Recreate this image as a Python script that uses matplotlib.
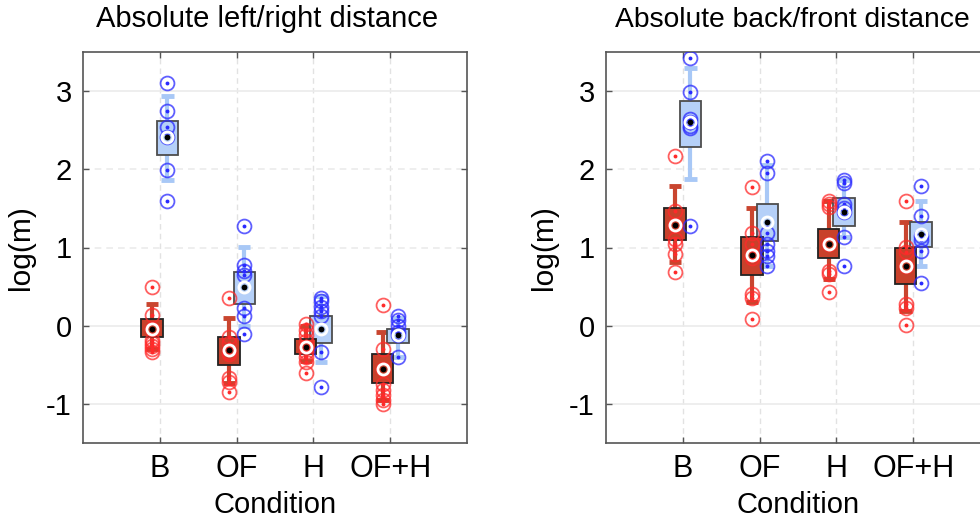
import matplotlib
matplotlib.use("Agg")
import matplotlib.pyplot as plt
import numpy as np

plt.rcParams['font.family'] = ['Liberation Sans', 'DejaVu Sans']

conditions = ["B", "OF", "H", "OF+H"]
titles = ["Absolute left/right distance", "Absolute back/front distance"]

# ---------- Left panel: left/right distance ----------
lr_red_points = [
    [0.50, 0.14, -0.04, -0.18, -0.22, -0.26, -0.30, -0.33],
    [0.36, -0.14, -0.22, -0.33, -0.36, -0.67, -0.72, -0.85],
    [0.02, -0.05, -0.12, -0.20, -0.27, -0.33, -0.40, -0.47, -0.60],
    [0.27, -0.30, -0.55, -0.75, -0.82, -0.88, -0.95, -1.00],
]
lr_red_box = [(-0.15, 0.09), (-0.50, -0.15), (-0.36, -0.17), (-0.73, -0.36)]
lr_red_mean = [-0.04, -0.31, -0.27, -0.55]
lr_red_whisk = [(-0.30, 0.28), (-0.73, 0.10), (-0.45, 0.00), (-0.95, -0.08)]

lr_blue_points = [
    [3.10, 2.74, 2.54, 2.41, 1.99, 1.59],
    [1.27, 0.77, 0.70, 0.65, 0.23, 0.12, -0.10],
    [0.36, 0.31, 0.24, 0.19, 0.12, -0.33, -0.78],
    [0.12, 0.07, 0.00, -0.08, -0.12, -0.40],
]
lr_blue_box = [(2.18, 2.62), (0.28, 0.69), (-0.22, 0.13), (-0.22, -0.04)]
lr_blue_mean = [2.41, 0.49, -0.04, -0.12]
lr_blue_whisk = [(1.86, 2.94), (0.00, 1.01), (-0.47, 0.38), (-0.40, 0.10)]

# ---------- Right panel: back/front distance ----------
bf_red_points = [
    [2.17, 1.47, 1.29, 1.11, 1.04, 0.92, 0.69],
    [1.77, 1.18, 1.05, 0.90, 0.86, 0.41, 0.35, 0.08],
    [1.60, 1.56, 1.52, 1.05, 0.70, 0.66, 0.43],
    [1.60, 1.01, 0.94, 0.76, 0.28, 0.23, 0.01],
]
bf_red_box = [(1.09, 1.50), (0.65, 1.14), (0.87, 1.24), (0.53, 0.99)]
bf_red_mean = [1.29, 0.90, 1.05, 0.76]
bf_red_whisk = [(0.81, 1.79), (0.30, 1.50), (0.60, 1.60), (0.19, 1.32)]

bf_blue_points = [
    [3.42, 2.99, 2.64, 2.60, 2.56, 2.53, 1.28],
    [2.10, 1.95, 1.19, 1.04, 0.95, 0.89, 0.76],
    [1.86, 1.83, 1.56, 1.51, 1.45, 1.13, 0.76],
    [1.79, 1.40, 1.15, 1.10, 0.95, 0.55],
]
bf_blue_box = [(2.28, 2.87), (1.08, 1.55), (1.27, 1.63), (1.01, 1.32)]
bf_blue_mean = [2.60, 1.32, 1.45, 1.17]
bf_blue_whisk = [(1.87, 3.29), (0.76, 2.05), (1.13, 1.86), (0.76, 1.59)]

yticks = [-1, 0, 1, 2, 3]

RED_FILL = '#c8412b'
RED_WHISK = '#c9452f'
RED_PT = '#ff2a2a'
BLUE_FILL = '#b5d0f8'
BLUE_WHISK = '#a8c8f6'
BLUE_PT = '#2a2aff'

fig = plt.figure(figsize=(9.8, 5.18), dpi=100)
W, H = 980, 518
axL = fig.add_axes([83 / W, (H - 443) / H, 384 / W, 391 / H])
axR = fig.add_axes([606 / W, (H - 443) / H, 384 / W, 391 / H])

offset = 0.1
bw = 0.28
cap = 0.16


def draw_group(ax, xs, boxes, means, whisks, points, fill, wcol, edge, ptcol):
    for x, (b0, b1), m, (w0, w1), pts in zip(xs, boxes, means, whisks, points):
        ax.vlines(x, w0, b0, color=wcol, lw=3, zorder=2)
        ax.vlines(x, b1, w1, color=wcol, lw=3, zorder=2)
        ax.hlines([w0, w1], x - cap / 2, x + cap / 2, color=wcol, lw=3.5, zorder=2)
        ax.bar(x, b1 - b0, bottom=b0, width=bw, color=fill, edgecolor=edge,
               linewidth=1.3, zorder=3)
        px = np.full(len(pts), x)
        ax.plot(px, pts, 'o', ms=10, mfc='none', mec=ptcol, mew=1.3, alpha=0.75, zorder=4)
        ax.plot(px, pts, 'o', ms=2.8, mfc=ptcol, mec=ptcol, mew=0, zorder=5)
        ax.plot([x], [m], 'o', ms=8, mfc='none', mec='white', mew=2.0, zorder=6)
        ax.plot([x], [m], 'o', ms=4.2, mfc='black', mec='black', mew=0, zorder=7)


def setup(ax, title, tx, tsize):
    ax.set_xlim(0, 5)
    ax.set_ylim(-1.5, 3.5)
    ax.set_xticks(range(1, 5))
    ax.set_xticklabels(conditions)
    ax.set_yticks(yticks)
    ax.set_yticklabels([str(v) for v in yticks])
    for x in range(1, 5):
        ax.axvline(x, color='#e2e2e2', lw=1, ls=(0, (4, 3)), zorder=0)
    for y in yticks:
        style = '-' if y in (3, 0, -1) else (0, (4, 3))
        ax.axhline(y, color='#ebebeb', lw=1.2, ls=style, zorder=0)
    ax.tick_params(direction='in', top=True, right=True, length=4, width=1,
                   color='#555555', pad=8)
    ax.tick_params(axis='x', labelsize=22)
    ax.tick_params(axis='y', labelsize=21)
    for s in ax.spines.values():
        s.set_color('#555555')
        s.set_linewidth(1.2)
    ax.set_title(title, fontsize=tsize, pad=18, x=tx)
    ax.set_xlabel('Condition', fontsize=21, labelpad=5)
    ax.set_ylabel('log(m)', fontsize=21.5, labelpad=8)


xs = np.arange(1, 5)
for ax, title, tx, ts, R, B in [
    (axL, titles[0], 0.48, 21,
     (lr_red_box, lr_red_mean, lr_red_whisk, lr_red_points),
     (lr_blue_box, lr_blue_mean, lr_blue_whisk, lr_blue_points)),
    (axR, titles[1], 0.485, 20.3,
     (bf_red_box, bf_red_mean, bf_red_whisk, bf_red_points),
     (bf_blue_box, bf_blue_mean, bf_blue_whisk, bf_blue_points)),
]:
    setup(ax, title, tx, ts)
    draw_group(ax, xs + offset, *B, BLUE_FILL, BLUE_WHISK, '#4d4d4d', BLUE_PT)
    draw_group(ax, xs - offset, *R, RED_FILL, RED_WHISK, '#222222', RED_PT)

fig.savefig('out.png', dpi=100)
